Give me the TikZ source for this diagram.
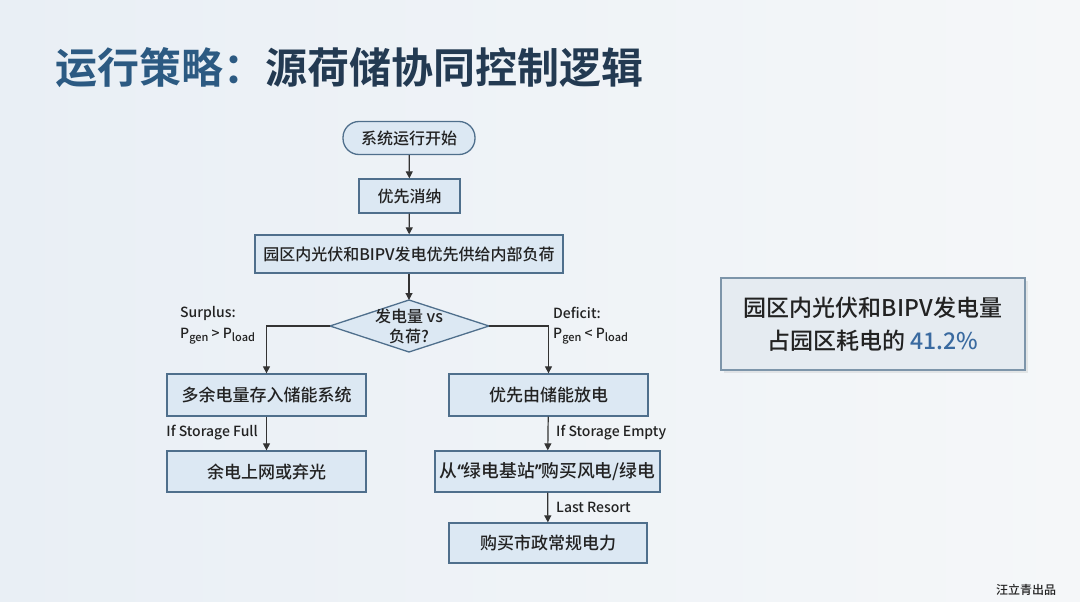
\documentclass[tikz,border=0pt]{standalone}
\usepackage{fontspec}
\setmainfont{Noto Sans CJK SC}[UprightFont=* Medium, BoldFont=* Bold]
\newfontfamily\quotefont{Noto Sans}[FakeBold=1.5]
\usetikzlibrary{shapes.geometric,arrows.meta,shadows}
\definecolor{bgA}{HTML}{E9EFF5}
\definecolor{bgB}{HTML}{F5F7F9}
\definecolor{boxfill}{HTML}{DCE8F3}
\definecolor{boxdraw}{HTML}{4F6F8C}
\definecolor{titleA}{HTML}{2C5A82}
\definecolor{titleB}{HTML}{233A52}
\definecolor{sidefill}{HTML}{E5EBF1}
\definecolor{sidedraw}{HTML}{7D95AA}
\definecolor{pct}{HTML}{3A6AA0}
\definecolor{txt}{HTML}{222222}
\definecolor{arr}{HTML}{333333}
\newcommand{\mysub}[1]{\raisebox{-3.5pt}{\fontsize{11}{12}\selectfont #1}}
\tikzset{
  flowbox/.style={draw=boxdraw, fill=boxfill, line width=1.3pt, inner sep=0pt,
    text=txt, font=\fontsize{17}{20}\selectfont},
  startbox/.style={flowbox, rounded corners=16pt, font=\fontsize{16}{19}\selectfont},
  lbl/.style={text=txt, inner sep=0pt, font=\fontsize{14}{17}\selectfont},
  conn/.style={draw=arr, line width=1.2pt, -{Triangle[length=7pt,width=7pt]}},
}
\begin{document}
\begin{tikzpicture}[x=1pt,y=-1pt]
\useasboundingbox (0,0) rectangle (1080,602);
\shade[left color=bgA, right color=bgB] (0,0) rectangle (1080,602);

% title
\node[anchor=west, inner sep=0pt, font=\fontsize{42}{48}\selectfont\bfseries] (title) at (55,68)
  {\textcolor{titleA}{运行策略：}\textcolor{titleB}{源荷储协同控制逻辑}};

% flow nodes
\node[startbox, minimum width=132pt, minimum height=33pt] (start) at (409,138) {系统运行开始};
\node[flowbox, minimum width=101pt, minimum height=34pt, font=\fontsize{16}{19}\selectfont] (prio) at (409.5,196) {优先消纳};
\node[flowbox, minimum width=308pt, minimum height=38pt, font=\fontsize{16}{19}\selectfont] (supply) at (409,254) {园区内光伏和BIPV发电优先供给内部负荷};

% decision diamond
\coordinate (dT) at (409,300);
\coordinate (dB) at (409,352);
\coordinate (dL) at (330,326);
\coordinate (dR) at (489,326);
\draw[draw=boxdraw, fill=boxfill, line width=1.3pt] (dT) -- (dR) -- (dB) -- (dL) -- cycle;
\node[text=txt, align=center, inner sep=0pt, font=\fontsize{16}{20}\selectfont] (dec) at (409,326) {发电量 vs\\负荷?};

\node[flowbox, minimum width=199pt, minimum height=42pt] (store) at (266.5,395) {多余电量存入储能系统};
\node[flowbox, minimum width=199pt, minimum height=42pt] (dis) at (548.5,395) {优先由储能放电};
\node[flowbox, minimum width=199pt, minimum height=41pt] (grid) at (266.5,471.5) {余电上网或弃光};
\node[flowbox, minimum width=225pt, minimum height=41pt, font=\fontsize{17.8}{20}\selectfont] (green) at (547.5,471.5) {从{\quotefont “}绿电基站{\quotefont ”}购买风电/绿电};
\node[flowbox, minimum width=198pt, minimum height=40pt] (city) at (548,543) {购买市政常规电力};

% connectors
\draw[conn] (start) -- (prio);
\draw[conn] (prio) -- (supply);
\draw[conn] (supply) -- (dT);
\draw[conn] (dL) -| (store.north);
\draw[conn] (dR) -| (dis.north);
\draw[conn] (store) -- (grid);
\draw[conn] (dis) -- (green);
\draw[conn] (green) -- (city);

% labels
\node[lbl, anchor=west] (sur) at (180,313) {Surplus:};
\node[lbl, anchor=west] (surc) at (180,336) {P\mysub{gen} > P\mysub{load}};
\node[lbl, anchor=west] (def) at (553,313) {Deficit:};
\node[lbl, anchor=west] (defc) at (553,336) {P\mysub{gen} < P\mysub{load}};
\node[lbl, anchor=east] (full) at (258,433) {If Storage Full};
\node[lbl, anchor=west] (empty) at (556,433) {If Storage Empty};
\node[lbl, anchor=west] (last) at (556,507) {Last Resort};

% side box
\node[draw=sidedraw, fill=sidefill, line width=1.6pt, minimum width=304pt, minimum height=92pt,
  align=center, text=txt, font=\fontsize{23}{33}\selectfont, drop shadow={opacity=0.15}] (side) at (873,324)
  {园区内光伏和BIPV发电量\\占园区耗电的 \textcolor{pct}{41.2\%}};

% footer
\node[text=txt, inner sep=0pt, font=\fontsize{12}{14}\selectfont] (foot) at (1026,590) {汪立青出品};
\end{tikzpicture}
\end{document}
